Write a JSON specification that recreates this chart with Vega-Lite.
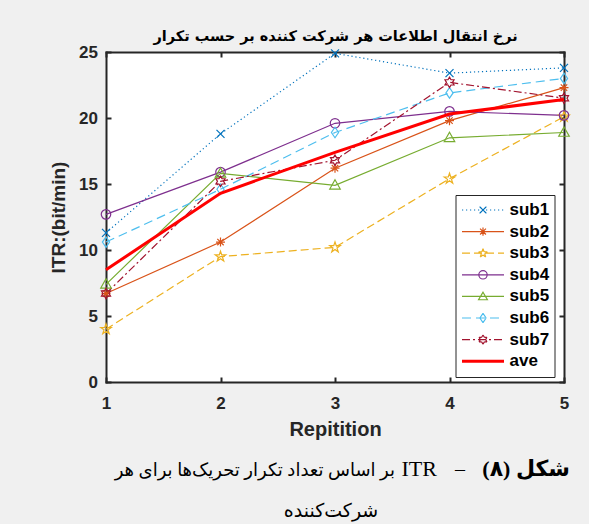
{
  "$schema": "https://vega.github.io/schema/vega-lite/v6.json",
  "background": "#f0f0f0",
  "padding": {"left": 49, "top": 28, "right": 19, "bottom": 4},
  "width": 458,
  "height": 330,
  "data": {
    "values": [
      {"rep": 1, "series": "sub1", "itr": 11.3}, {"rep": 2, "series": "sub1", "itr": 18.8}, {"rep": 3, "series": "sub1", "itr": 24.9}, {"rep": 4, "series": "sub1", "itr": 23.4}, {"rep": 5, "series": "sub1", "itr": 23.8},
      {"rep": 1, "series": "sub2", "itr": 6.7}, {"rep": 2, "series": "sub2", "itr": 10.6}, {"rep": 3, "series": "sub2", "itr": 16.2}, {"rep": 4, "series": "sub2", "itr": 19.8}, {"rep": 5, "series": "sub2", "itr": 22.3},
      {"rep": 1, "series": "sub3", "itr": 4.0}, {"rep": 2, "series": "sub3", "itr": 9.5}, {"rep": 3, "series": "sub3", "itr": 10.2}, {"rep": 4, "series": "sub3", "itr": 15.4}, {"rep": 5, "series": "sub3", "itr": 20.1},
      {"rep": 1, "series": "sub4", "itr": 12.7}, {"rep": 2, "series": "sub4", "itr": 15.9}, {"rep": 3, "series": "sub4", "itr": 19.6}, {"rep": 4, "series": "sub4", "itr": 20.5}, {"rep": 5, "series": "sub4", "itr": 20.2},
      {"rep": 1, "series": "sub5", "itr": 7.4}, {"rep": 2, "series": "sub5", "itr": 15.8}, {"rep": 3, "series": "sub5", "itr": 14.9}, {"rep": 4, "series": "sub5", "itr": 18.5}, {"rep": 5, "series": "sub5", "itr": 18.9},
      {"rep": 1, "series": "sub6", "itr": 10.6}, {"rep": 2, "series": "sub6", "itr": 14.6}, {"rep": 3, "series": "sub6", "itr": 18.9}, {"rep": 4, "series": "sub6", "itr": 21.9}, {"rep": 5, "series": "sub6", "itr": 23.0},
      {"rep": 1, "series": "sub7", "itr": 6.7}, {"rep": 2, "series": "sub7", "itr": 15.2}, {"rep": 3, "series": "sub7", "itr": 16.8}, {"rep": 4, "series": "sub7", "itr": 22.7}, {"rep": 5, "series": "sub7", "itr": 21.5},
      {"rep": 1, "series": "ave", "itr": 8.5}, {"rep": 2, "series": "ave", "itr": 14.3}, {"rep": 3, "series": "ave", "itr": 17.4}, {"rep": 4, "series": "ave", "itr": 20.3}, {"rep": 5, "series": "ave", "itr": 21.4}
    ]
  },
  "encoding": {
    "x": {"field": "rep", "type": "quantitative", "scale": {"domain": [1, 5], "nice": false, "zero": false}, "axis": null},
    "y": {"field": "itr", "type": "quantitative", "scale": {"domain": [0, 25], "nice": false}, "axis": null},
    "color": {
      "field": "series", "type": "nominal",
      "scale": {"domain": ["sub1", "sub2", "sub3", "sub4", "sub5", "sub6", "sub7", "ave"], "range": ["#0072BD", "#D95319", "#EDB120", "#7E2F8E", "#77AC30", "#4DBEEE", "#A2142F", "#FF0000"]},
      "legend": null
    }
  },
  "layer": [
    {
      "transform": [{"filter": "datum.series !== 'ave'"}],
      "mark": {"type": "line"},
      "encoding": {
        "x": {
          "field": "rep", "type": "quantitative", "scale": {"domain": [1, 5], "nice": false, "zero": false},
          "axis": {"orient": "bottom", "values": [1, 2, 3, 4, 5], "format": "d", "labelFlush": false, "labelOverlap": false, "labelPadding": 18, "title": "Repitition", "titleFontSize": 20, "titlePadding": 8}
        },
        "y": {
          "field": "itr", "type": "quantitative", "scale": {"domain": [0, 25], "nice": false},
          "axis": {"orient": "left", "values": [0, 5, 10, 15, 20, 25], "labelFlush": false, "labelOverlap": false, "labelPadding": 13.5, "title": "ITR:(bit/min)", "titlePadding": 10}
        },
        "strokeDash": {
          "field": "series", "type": "nominal",
          "scale": {"domain": ["sub1", "sub2", "sub3", "sub4", "sub5", "sub6", "sub7", "ave"], "range": [[1.2, 2.8], [], [8, 4], [], [], [9, 5], [8, 3, 2, 3], []]},
          "legend": null
        },
        "strokeWidth": {
          "field": "series", "type": "nominal",
          "scale": {"type": "ordinal", "domain": ["sub1", "sub2", "sub3", "sub4", "sub5", "sub6", "sub7", "ave"], "range": [1.2, 1.2, 1.2, 1.2, 1.2, 1.2, 1.2, 3]},
          "legend": null
        }
      }
    },
    {
      "transform": [{"filter": "datum.series === 'sub1'"}],
      "mark": {"type": "point", "shape": "M-0.8,-0.8L0.8,0.8M-0.8,0.8L0.8,-0.8", "size": 100, "filled": false, "opacity": 1, "strokeWidth": 1.2},
      "encoding": {
        "x": {
          "field": "rep", "type": "quantitative", "scale": {"domain": [1, 5], "nice": false, "zero": false},
          "axis": {
            "orient": "bottom", "domain": false, "ticks": false, "labels": false,
            "title": "شکل (۸)\u200f", "titleX": 463.5, "titleY": 93, "titleAlign": "right", "titleBaseline": "alphabetic",
            "titleFont": "Liberation Serif, DejaVu Sans", "titleFontSize": 22, "titleFontWeight": "bold", "titleColor": "black"
          }
        }
      }
    },
    {
      "transform": [{"filter": "datum.series === 'sub2'"}],
      "mark": {"type": "point", "shape": "M-0.9,0H0.9M0,-0.9V0.9M-0.64,-0.64L0.64,0.64M-0.64,0.64L0.64,-0.64", "size": 100, "filled": false, "opacity": 1, "strokeWidth": 1.2},
      "encoding": {
        "x": {
          "field": "rep", "type": "quantitative", "scale": {"domain": [1, 5], "nice": false, "zero": false},
          "axis": {
            "orient": "bottom", "domain": false, "ticks": false, "labels": false,
            "title": "ITR", "titleX": 330.5, "titleY": 93, "titleAlign": "right", "titleBaseline": "alphabetic",
            "titleFont": "Liberation Serif", "titleFontSize": 22, "titleFontWeight": "normal", "titleColor": "black"
          }
        }
      }
    },
    {
      "transform": [{"filter": "datum.series === 'sub3'"}],
      "mark": {"type": "point", "shape": "M0,-1.1L0.247,-0.34L1.046,-0.34L0.4,0.13L0.647,0.89L0,0.42L-0.647,0.89L-0.4,0.13L-1.046,-0.34L-0.247,-0.34Z", "size": 100, "filled": false, "opacity": 1, "strokeWidth": 1.2},
      "encoding": {
        "x": {
          "field": "rep", "type": "quantitative", "scale": {"domain": [1, 5], "nice": false, "zero": false},
          "axis": {
            "orient": "bottom", "domain": false, "ticks": false, "labels": false,
            "title": "شرکت\u200cکننده", "titleX": 224.5, "titleY": 128, "titleAlign": "center", "titleBaseline": "middle",
            "titleFont": "Liberation Serif, DejaVu Sans", "titleFontSize": 19, "titleFontWeight": "normal", "titleColor": "black"
          }
        }
      }
    },
    {
      "transform": [{"filter": "datum.series === 'sub4'"}],
      "mark": {"type": "point", "shape": "M0.95,0A0.95,0.95,0,1,1,-0.95,0A0.95,0.95,0,1,1,0.95,0Z", "size": 100, "filled": false, "opacity": 1, "strokeWidth": 1.2},
      "encoding": {
        "x": {
          "field": "rep", "type": "quantitative", "scale": {"domain": [1, 5], "nice": false, "zero": false},
          "axis": {
            "orient": "bottom", "domain": false, "ticks": false, "labels": false,
            "title": "–", "titleX": 358.5, "titleY": 93, "titleAlign": "right", "titleBaseline": "alphabetic",
            "titleFont": "Liberation Serif", "titleFontSize": 20, "titleFontWeight": "normal", "titleColor": "black"
          }
        }
      }
    },
    {
      "transform": [{"filter": "datum.series === 'sub5'"}],
      "mark": {"type": "point", "shape": "M0,-1.1L1.05,0.75L-1.05,0.75Z", "size": 100, "filled": false, "opacity": 1, "strokeWidth": 1.2},
      "encoding": {
        "x": {
          "field": "rep", "type": "quantitative", "scale": {"domain": [1, 5], "nice": false, "zero": false},
          "axis": {
            "orient": "bottom", "domain": false, "ticks": false, "labels": false,
            "title": "بر اساس تعداد تکرار تحریک\u200cها برای هر", "titleX": 288.5, "titleY": 93, "titleAlign": "right", "titleBaseline": "alphabetic",
            "titleFont": "Liberation Serif, DejaVu Sans", "titleFontSize": 18, "titleFontWeight": "normal", "titleColor": "black"
          }
        }
      }
    },
    {"transform": [{"filter": "datum.series === 'sub6'"}], "mark": {"type": "point", "shape": "M0,-1.05L0.72,0L0,1.05L-0.72,0Z", "size": 100, "filled": false, "opacity": 1, "strokeWidth": 1.2}},
    {"transform": [{"filter": "datum.series === 'sub7'"}], "mark": {"type": "point", "shape": "M0,-1.05L0.303,-0.525L0.909,-0.525L0.606,0L0.909,0.525L0.303,0.525L0,1.05L-0.303,0.525L-0.909,0.525L-0.606,0L-0.909,-0.525L-0.303,-0.525Z", "size": 100, "filled": false, "opacity": 1, "strokeWidth": 1.2}},
    {
      "transform": [{"filter": "datum.series === 'ave'"}],
      "mark": {"type": "line", "strokeWidth": 3}
    },
    {
      "transform": [{"filter": "false"}],
      "mark": {"type": "point", "filled": false, "opacity": 1, "size": 1764},
      "encoding": {
        "x": {
          "field": "rep", "type": "quantitative", "scale": {"domain": [1, 5], "nice": false, "zero": false},
          "axis": {"orient": "top", "values": [1, 2, 3, 4, 5], "labels": false, "title": "نرخ انتقال اطلاعات هر شرکت کننده بر حسب تکرار", "titleFont": "DejaVu Sans", "titleFontSize": 14.5, "titleColor": "black", "titlePadding": 8}
        },
        "y": {
          "field": "itr", "type": "quantitative", "scale": {"domain": [0, 25], "nice": false},
          "axis": {"orient": "right", "values": [0, 5, 10, 15, 20, 25], "labels": false, "title": null}
        },
        "color": {
          "field": "series", "type": "nominal",
          "scale": {"domain": ["sub1", "sub2", "sub3", "sub4", "sub5", "sub6", "sub7", "ave"], "range": ["#0072BD", "#D95319", "#EDB120", "#7E2F8E", "#77AC30", "#4DBEEE", "#A2142F", "#FF0000"]},
          "legend": {
            "orient": "none", "legendX": 349.5, "legendY": 143, "title": null,
            "padding": 5, "strokeColor": "#262626", "fillColor": "white",
            "labelFont": "Liberation Sans", "labelFontSize": 17, "labelFontWeight": "bold", "labelColor": "black",
            "symbolSize": 1764, "clipHeight": 20, "rowPadding": 1.6, "labelOffset": 4,
            "encode": {"legend": {"update": {"strokeWidth": {"value": 2}}}}
          }
        },
        "strokeDash": {
          "field": "series", "type": "nominal",
          "scale": {"domain": ["sub1", "sub2", "sub3", "sub4", "sub5", "sub6", "sub7", "ave"], "range": [[1.2, 2.8], [], [8, 4], [], [], [9, 5], [8, 3, 2, 3], []]}
        },
        "strokeWidth": {
          "field": "series", "type": "nominal",
          "scale": {"type": "ordinal", "domain": ["sub1", "sub2", "sub3", "sub4", "sub5", "sub6", "sub7", "ave"], "range": [1.2, 1.2, 1.2, 1.2, 1.2, 1.2, 1.2, 3]}
        },
        "shape": {
          "field": "series", "type": "nominal",
          "scale": {
            "domain": ["sub1", "sub2", "sub3", "sub4", "sub5", "sub6", "sub7", "ave"],
            "range": [
              "M-1,0H1M0,0L0.032,0.032M0.032,0.032L0.064,0.064M0.064,0.064L0.096,0.096M0.096,0.096L0.128,0.128M0.128,0.128L0.16,0.16M0,0L0.032,-0.032M0.032,-0.032L0.064,-0.064M0.064,-0.064L0.096,-0.096M0.096,-0.096L0.128,-0.128M0.128,-0.128L0.16,-0.16M0,0L-0.032,0.032M-0.032,0.032L-0.064,0.064M-0.064,0.064L-0.096,0.096M-0.096,0.096L-0.128,0.128M-0.128,0.128L-0.16,0.16M0,0L-0.032,-0.032M-0.032,-0.032L-0.064,-0.064M-0.064,-0.064L-0.096,-0.096M-0.096,-0.096L-0.128,-0.128M-0.128,-0.128L-0.16,-0.16",
              "M-1,0H1M-0.2,0H0.2M0,-0.2V0.2M-0.14,-0.14L0.14,0.14M-0.14,0.14L0.14,-0.14",
              "M-1,0H1M0,-0.22L0.049,-0.068M0.049,-0.068L0.209,-0.068M0.209,-0.068L0.08,0.026M0.08,0.026L0.129,0.178M0.129,0.178L0,0.084M0,0.084L-0.129,0.178M-0.129,0.178L-0.08,0.026M-0.08,0.026L-0.209,-0.068M-0.209,-0.068L-0.049,-0.068M-0.049,-0.068L0,-0.22",
              "M-1,0H1M0.2,0A0.2,0.2,0,1,1,-0.2,0A0.2,0.2,0,1,1,0.2,0",
              "M-1,0H1M0,-0.2L0.21,0.16L-0.21,0.16Z",
              "M-1,0H1M0,-0.22L0.15,0M0.15,0L0,0.22M0,0.22L-0.15,0M-0.15,0L0,-0.22",
              "M-1,0H1M0,-0.22L0.064,-0.11M0.064,-0.11L0.19,-0.11M0.19,-0.11L0.127,0M0.127,0L0.19,0.11M0.19,0.11L0.064,0.11M0.064,0.11L0,0.22M0,0.22L-0.064,0.11M-0.064,0.11L-0.19,0.11M-0.19,0.11L-0.127,0M-0.127,0L-0.19,-0.11M-0.19,-0.11L-0.064,-0.11M-0.064,-0.11L0,-0.22",
              "M-1,0H1"
            ]
          }
        }
      }
    }
  ],
  "resolve": {
    "axis": {"x": "independent", "y": "independent"},
    "legend": {"color": "independent", "strokeDash": "independent", "strokeWidth": "independent", "shape": "independent"}
  },
  "config": {
    "view": {"fill": "white", "stroke": null},
    "axis": {
      "grid": false,
      "domainColor": "#262626", "domainWidth": 2, "domainCap": "square",
      "tickColor": "#262626", "tickWidth": 2, "tickSize": -5,
      "labelFont": "Liberation Sans", "labelFontSize": 17, "labelFontWeight": "bold", "labelColor": "#262626",
      "titleFont": "Liberation Sans", "titleFontSize": 19, "titleFontWeight": "bold", "titleColor": "#262626"
    }
  }
}
